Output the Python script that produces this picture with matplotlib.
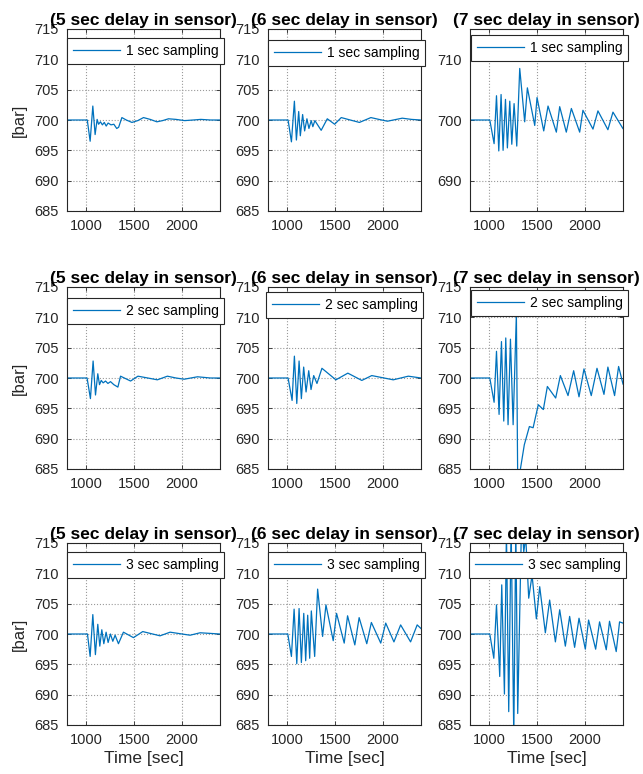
import matplotlib
matplotlib.use("Agg")
import matplotlib.pyplot as plt

plt.rcParams.update({
    "font.family": "Liberation Sans",
    "axes.linewidth": 0.8,
})

# ---- data (time [sec], pressure [bar]) ----
delays = ["5", "6", "7"]
samplings = ["1", "2", "3"]

# 5 sec delay, 1 sec sampling
t_d5_s1 = [800, 1012, 1042, 1070, 1094, 1115, 1130, 1150, 1170, 1190, 1210, 1230, 1260, 1290, 1320,
           1340, 1374, 1420, 1479, 1540, 1600, 1670, 1740, 1800, 1861, 1940, 2030, 2120, 2200, 2300, 2400]
p_d5_s1 = [700, 700, 696.5, 702.3, 697.6, 700.1, 699.3, 699.7, 699.2, 699.6, 699.0, 699.5, 699.2, 699.3, 698.6,
           698.8, 700.4, 700.0, 699.6, 699.9, 700.4, 700.1, 699.7, 699.9, 700.2, 700.1, 699.9, 700.0, 700.1, 700.0, 700.0]

# 6 sec delay, 1 sec sampling
t_d6_s1 = [800, 1010, 1045, 1076, 1097, 1121, 1138, 1162, 1183, 1207, 1228, 1252, 1269, 1290, 1356,
           1420, 1497, 1566, 1660, 1756, 1876, 1960, 2049, 2204, 2300, 2400]
p_d6_s1 = [700, 700, 696.4, 703.1, 696.7, 701.4, 697.4, 700.9, 698.2, 700.2, 698.6, 699.9, 698.9, 699.9, 698.3,
           700.2, 699.3, 700.4, 700.0, 699.6, 700.4, 700.1, 699.8, 700.3, 700.1, 700.0]

# 7 sec delay, 1 sec sampling
t_d7_s1 = [800, 1007, 1052, 1077, 1101, 1125, 1146, 1171, 1191, 1216, 1237, 1261, 1289, 1320, 1372, 1400,
           1477, 1501, 1571, 1616, 1703, 1738, 1807, 1860, 1947, 1981, 2086, 2138, 2242, 2295, 2399]
p_d7_s1 = [700, 700, 696.1, 704.0, 694.9, 704.2, 695.0, 703.4, 695.4, 703.1, 696.0, 702.7, 695.7, 708.5, 699.7, 705.3,
           699.1, 703.7, 698.2, 702.3, 698.0, 702.2, 698.0, 701.9, 698.0, 701.6, 698.5, 701.5, 698.4, 701.3, 698.6]

# 5 sec delay, 2 sec sampling
t_d5_s2 = [800, 1010, 1045, 1073, 1098, 1122, 1140, 1158, 1178, 1203, 1228, 1255, 1290, 1332, 1360,
           1465, 1542, 1645, 1745, 1850, 1940, 2025, 2165, 2300, 2400]
p_d5_s2 = [700, 700, 696.6, 702.8, 697.2, 700.7, 698.9, 699.6, 699.2, 699.5, 699.1, 699.4, 698.9, 698.5, 700.3,
           699.5, 700.3, 700.0, 699.7, 700.3, 700.0, 699.8, 700.2, 700.0, 700.0]

# 6 sec delay, 2 sec sampling
t_d6_s2 = [800, 1010, 1052, 1076, 1101, 1125, 1149, 1173, 1198, 1226, 1250, 1278, 1312, 1364, 1510,
           1635, 1781, 1885, 2110, 2267, 2400]
p_d6_s2 = [700, 700, 696.3, 703.6, 695.8, 702.8, 696.6, 701.8, 697.7, 701.2, 698.1, 700.4, 699.1, 701.6, 699.7,
           700.8, 699.6, 700.4, 699.7, 700.3, 700.0]

# 7 sec delay, 2 sec sampling
t_d7_s2 = [800, 1007, 1052, 1077, 1104, 1129, 1153, 1174, 1198, 1223, 1251, 1285, 1300, 1322, 1368, 1421,
           1460, 1514, 1567, 1609, 1696, 1745, 1825, 1884, 1940, 1992, 2068, 2128, 2201, 2242, 2312, 2354, 2400]
p_d7_s2 = [700, 700, 696.0, 704.4, 694.0, 706.0, 692.9, 706.6, 692.3, 706.4, 692.3, 710.6, 681.0, 684.5, 689.0, 692.0,
           691.8, 695.6, 694.8, 698.6, 696.7, 700.4, 697.1, 701.2, 696.9, 701.5, 697.1, 701.6, 697.3, 701.8, 697.1, 701.9, 699.0]

# 5 sec delay, 3 sec sampling
t_d5_s3 = [800, 1014, 1042, 1070, 1097, 1122, 1143, 1164, 1185, 1209, 1230, 1254, 1279, 1303, 1338,
           1390, 1495, 1592, 1773, 1878, 2087, 2192, 2400]
p_d5_s3 = [700, 700, 696.3, 703.2, 696.6, 701.6, 698.0, 700.7, 698.4, 700.3, 698.6, 700.0, 698.8, 699.8, 698.4,
           700.3, 699.4, 700.4, 699.7, 700.3, 699.8, 700.2, 700.0]

# 6 sec delay, 3 sec sampling
t_d6_s3 = [800, 1007, 1045, 1073, 1101, 1125, 1149, 1174, 1194, 1215, 1236, 1253, 1288, 1319, 1371, 1406,
           1482, 1517, 1597, 1632, 1708, 1753, 1833, 1881, 1979, 2031, 2117, 2187, 2291, 2360, 2400]
p_d6_s3 = [700, 700, 696.3, 704.1, 695.1, 704.2, 695.3, 703.4, 695.6, 703.1, 696.0, 703.8, 696.3, 707.4, 699.6, 704.8,
           698.9, 703.4, 698.5, 703.0, 698.2, 702.7, 698.4, 701.9, 698.5, 701.8, 698.7, 701.5, 698.7, 701.5, 700.9]

# 7 sec delay, 3 sec sampling
t_d7_s3 = [800, 1007, 1049, 1077, 1111, 1132, 1160, 1181, 1205, 1230, 1258, 1279, 1299, 1341, 1362, 1383,
           1414, 1449, 1494, 1529, 1588, 1633, 1693, 1738, 1797, 1842, 1894, 1940, 2006, 2040, 2114, 2155,
           2225, 2259, 2329, 2364, 2399]
p_d7_s3 = [700, 700, 696.0, 704.8, 693.0, 708.1, 690.1, 717, 687.2, 718, 683, 718, 686.9, 720, 713.5, 716,
           705.9, 709.7, 702.5, 707.8, 700.2, 705.6, 698.7, 704.0, 698.0, 702.9, 697.8, 702.6, 697.5, 702.3, 697.5, 702.0,
           697.4, 702.1, 697.1, 702.0, 701.8]

series = [
    [(t_d5_s1, p_d5_s1), (t_d6_s1, p_d6_s1), (t_d7_s1, p_d7_s1)],
    [(t_d5_s2, p_d5_s2), (t_d6_s2, p_d6_s2), (t_d7_s2, p_d7_s2)],
    [(t_d5_s3, p_d5_s3), (t_d6_s3, p_d6_s3), (t_d7_s3, p_d7_s3)],
]

x_ticks = [1000, 1500, 2000]
y_ticks_fine = [685, 690, 695, 700, 705, 710, 715]
y_ticks_coarse = [690, 700, 710]

# ---- layout in pixels ----
W, H = 643, 774
col_left = [67, 268, 470]
row_top = [29, 287, 543]
ax_w, ax_h = 153, 182
# legend upper-left corners (x, y) in pixels
leg_pos = [
    [(67, 38), (268, 40), (471, 35)],
    [(67, 298), (266, 292), (471, 290)],
    [(67, 552), (268, 552), (469, 552)],
]

line_color = "#0072BD"
dark = "#262626"

fig = plt.figure(figsize=(W / 100, H / 100), dpi=100)

for r in range(3):
    for c in range(3):
        ax = fig.add_axes([col_left[c] / W, 1 - (row_top[r] + ax_h) / H, ax_w / W, ax_h / H])
        t, p = series[r][c]
        ax.plot(t, p, color=line_color, linewidth=0.9, label=f"{samplings[r]} sec sampling")
        ax.set_xlim(800, 2400)
        ax.set_ylim(685, 715)
        ax.set_xticks(x_ticks)
        if r == 0 and c == 2:
            ax.set_yticks(y_ticks_coarse)
        else:
            ax.set_yticks(y_ticks_fine)
        ax.grid(True, linestyle=":", color="#9a9a9a", linewidth=0.8)
        ax.set_axisbelow(True)
        for s in ax.spines.values():
            s.set_color(dark)
            s.set_linewidth(0.8)
        ax.tick_params(direction="in", length=3, width=0.6, top=True, right=True,
                       colors=dark, labelcolor=dark, labelsize=10.5)
        ax.tick_params(axis="y", pad=6)
        ax.tick_params(axis="x", pad=6)
        ax.set_title(f"({delays[c]} sec delay in sensor)", fontsize=12.5, fontweight="bold", pad=3)
        if c == 0:
            ax.set_ylabel("[bar]", fontsize=12, color=dark, labelpad=5)
        if r == 2:
            ax.set_xlabel("Time [sec]", fontsize=12.5, color=dark, labelpad=3)
        lx, ly = leg_pos[r][c]
        leg = ax.legend(loc="upper left", bbox_to_anchor=(lx / W, 1 - ly / H),
                        bbox_transform=fig.transFigure, borderaxespad=0,
                        fontsize=10, handlelength=3.4, handletextpad=0.4,
                        borderpad=0.42, fancybox=False, framealpha=1)
        leg.get_frame().set_edgecolor(dark)
        leg.get_frame().set_linewidth(0.8)

fig.savefig("out.png", dpi=100)
